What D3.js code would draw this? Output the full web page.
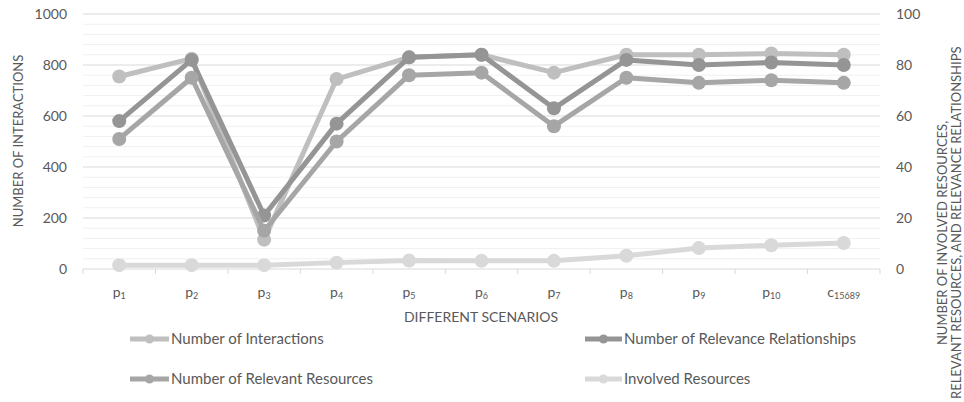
<!DOCTYPE html>
<html>
<head>
<meta charset="utf-8">
<script src="https://cdn.jsdelivr.net/npm/d3@7"></script>
<style>
  html, body { margin: 0; padding: 0; background: #fff; }
  svg { display: block; font-family: Lato, "Open Sans", sans-serif; }
</style>
</head>
<body>
<svg id="chart" width="964" height="402"></svg>
<script>
const categories = ["p1","p2","p3","p4","p5","p6","p7","p8","p9","p10","c15689"];
const catBase = ["p","p","p","p","p","p","p","p","p","p","c"];
const catSub = ["1","2","3","4","5","6","7","8","9","10","15689"];
const interactions = [755, 825, 115, 745, 830, 840, 770, 840, 840, 845, 840];
const relevanceRelationships = [58, 82, 21, 57, 83, 84, 63, 82, 80, 81, 80];
const relevantResources = [51, 75, 15, 50, 76, 77, 56, 75, 73, 74, 73];
const involvedResources = [1.5, 1.5, 1.5, 2.5, 3.3, 3.2, 3.2, 5.2, 8.2, 9.3, 10.2];
const leftTicks = [0, 200, 400, 600, 800, 1000];
const rightTicks = [0, 20, 40, 60, 80, 100];

const svg = d3.select("#chart");
const L = 83, R = 880, T = 14, B = 269;
const x = d3.scaleBand().domain(categories).range([L, R]);
const yL = d3.scaleLinear().domain([0, 1000]).range([B, T]);
const yR = d3.scaleLinear().domain([0, 100]).range([B, T]);

// minor gridlines
const minor = d3.range(0, 1001, 40).filter(v => v % 200 !== 0);
svg.append("g").selectAll("line").data(minor).join("line")
  .attr("x1", L).attr("x2", R)
  .attr("y1", d => yL(d)).attr("y2", d => yL(d))
  .attr("stroke", "#f0f0f0").attr("stroke-width", 1);
// major gridlines
svg.append("g").selectAll("line").data(leftTicks).join("line")
  .attr("x1", L).attr("x2", R)
  .attr("y1", d => yL(d)).attr("y2", d => yL(d))
  .attr("stroke", "#d9d9d9").attr("stroke-width", 1);

// x axis ticks
const bounds = categories.map(c => x(c)).concat([R]);
svg.append("g").selectAll("line").data(bounds).join("line")
  .attr("x1", d => d).attr("x2", d => d)
  .attr("y1", B).attr("y2", B + 5)
  .attr("stroke", "#d9d9d9");

// left tick labels
svg.append("g").selectAll("text").data(leftTicks).join("text")
  .attr("x", 67).attr("y", d => yL(d)).attr("dy", "0.35em")
  .attr("text-anchor", "end").attr("font-size", 14).attr("fill", "#595959")
  .text(d => d);
// right tick labels
svg.append("g").selectAll("text").data(rightTicks).join("text")
  .attr("x", 896).attr("y", d => yR(d)).attr("dy", "0.35em")
  .attr("text-anchor", "start").attr("font-size", 14).attr("fill", "#595959")
  .text(d => d);

// x labels with subscripts
const xl = svg.append("g").selectAll("text").data(categories).join("text")
  .attr("x", d => x(d) + x.bandwidth() / 2).attr("y", 297)
  .attr("text-anchor", "middle").attr("font-size", 14).attr("fill", "#595959");
xl.append("tspan").text((d, i) => catBase[i]);
xl.append("tspan").attr("font-size", 9).attr("dy", 2).text((d, i) => catSub[i]);

// axis titles
svg.append("text").attr("x", 481).attr("y", 322).attr("text-anchor", "middle")
  .attr("font-size", 14).attr("fill", "#595959").text("DIFFERENT SCENARIOS");
svg.append("text").attr("transform", "translate(23,141) rotate(-90)")
  .attr("text-anchor", "middle").attr("font-size", 13).attr("fill", "#595959")
  .text("NUMBER OF INTERACTIONS");
svg.append("text").attr("transform", "translate(947,233) rotate(-90)")
  .attr("text-anchor", "middle").attr("font-size", 13).attr("fill", "#595959")
  .text("NUMBER OF INVOLVED RESOURCES,");
const t2 = svg.append("text").attr("text-anchor", "middle").attr("font-size", 13)
  .attr("fill", "#595959").text("RELEVANT RESOURCES, AND RELEVANCE RELATIONSHIPS");
const len2 = t2.node().getComputedTextLength();
const c2 = Math.min(233, 399 - len2 / 2);
t2.attr("transform", `translate(961,${c2}) rotate(-90)`);

// series
const series = [
  { name: "Number of Interactions", values: interactions, y: yL, color: "#bfbfbf" },
  { name: "Number of Relevance Relationships", values: relevanceRelationships, y: yR, color: "#959595" },
  { name: "Number of Relevant Resources", values: relevantResources, y: yR, color: "#a6a6a6" },
  { name: "Involved Resources", values: involvedResources, y: yR, color: "#d9d9d9" }
];
series.forEach(s => {
  const pts = categories.map((c, i) => [x(c) + x.bandwidth() / 2, s.y(s.values[i])]);
  const g = svg.append("g");
  g.append("path").attr("d", d3.line()(pts)).attr("fill", "none")
    .attr("stroke", s.color).attr("stroke-width", 5).attr("stroke-linejoin", "round");
  g.selectAll("circle").data(pts).join("circle")
    .attr("cx", d => d[0]).attr("cy", d => d[1]).attr("r", 7)
    .attr("fill", s.color);
});

// legend
const legendPos = [
  { x1: 130, x2: 169, tx: 171, y: 339 },
  { x1: 585, x2: 622, tx: 624, y: 339 },
  { x1: 130, x2: 169, tx: 171, y: 379 },
  { x1: 585, x2: 622, tx: 624, y: 379 }
];
series.forEach((s, i) => {
  const p = legendPos[i];
  const g = svg.append("g");
  g.append("line").attr("x1", p.x1).attr("x2", p.x2).attr("y1", p.y).attr("y2", p.y)
    .attr("stroke", s.color).attr("stroke-width", 5);
  g.append("circle").attr("cx", (p.x1 + p.x2) / 2).attr("cy", p.y).attr("r", 4.5).attr("fill", s.color);
  g.append("text").attr("x", p.tx).attr("y", p.y).attr("dy", "0.35em")
    .attr("font-size", 15).attr("fill", "#595959").text(s.name);
});
</script>
</body>
</html>
